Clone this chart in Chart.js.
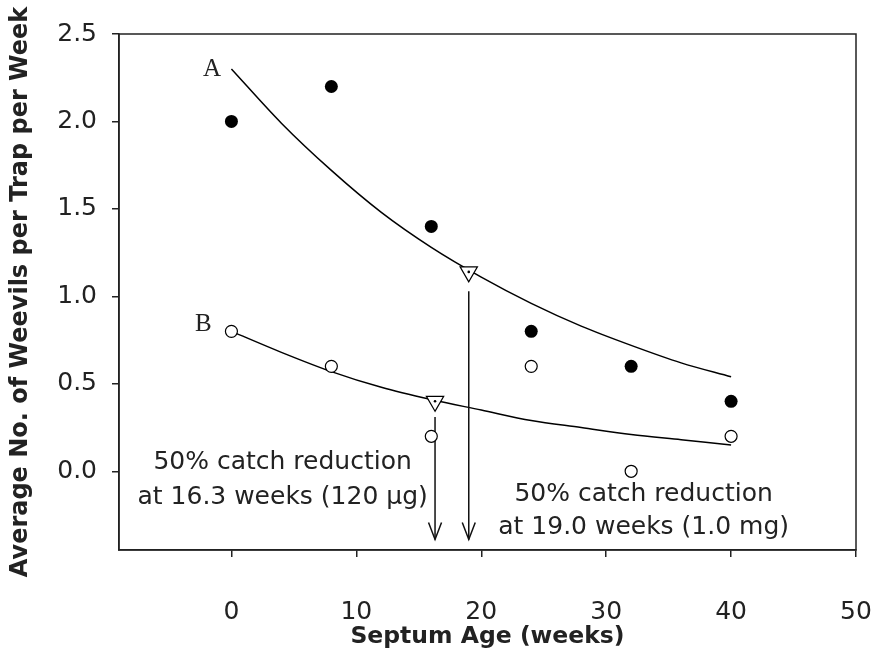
<!DOCTYPE html>
<html>
<head>
<meta charset="utf-8">
<script src="https://cdn.jsdelivr.net/npm/chart.js@4.4.1/dist/chart.umd.min.js"></script>
<style>
    html, body { margin: 0; padding: 0; background: #fff; }
</style>
</head>
<body>
<canvas id="graficoSepto" width="879" height="658"></canvas>
<script>
// pontos observados
var semanas = [0, 8, 16, 24, 32, 40];
var capturaA = [2.0, 2.2, 1.4, 0.8, 0.6, 0.4];
var capturaB = [0.8, 0.6, 0.2, 0.6, 0.0, 0.2];

// curvas ajustadas
var curvaX = [0, 4, 8, 12, 16, 20, 24, 28, 32, 36, 40];
var curvaA = [2.30, 1.99, 1.72, 1.48, 1.28, 1.11, 0.96, 0.83, 0.72, 0.62, 0.54];
var curvaB = [0.80, 0.68, 0.57, 0.48, 0.41, 0.35, 0.29, 0.25, 0.21, 0.18, 0.15];

// 50% de reducao (triangulos) e setas
var meiaVidaX = [16.3, 19.0];
var meiaVidaY = [0.40, 1.14];
var setaTopo = [0.31, 1.03];
var setaFim = [-0.39, -0.39];

var ticksX = [0, 10, 20, 30, 40, 50];
var ticksY = [0.0, 0.5, 1.0, 1.5, 2.0, 2.5];

var textos = [
    { linhas: ["50% catch reduction", "at 16.3 weeks (120 \u03bcg)"], x: 4.1, y: [0.05, -0.15] },
    { linhas: ["50% catch reduction", "at 19.0 weeks (1.0 mg)"], x: 33.0, y: [-0.135, -0.32] }
];
var letras = [
    { texto: "A", x: -1.55, y: 2.3 },
    { texto: "B", x: -2.25, y: 0.84 }
];

function pares(xs, ys) {
    var out = [];
    for (var i = 0; i < xs.length; i++) {
        out.push({ x: xs[i], y: ys[i] });
    }
    return out;
}

var fonteSans = "'DejaVu Sans', 'Liberation Sans', Arial, sans-serif";

var moldura = {
    id: "moldura",
    afterDatasetsDraw: function (chart) {
        var ctx = chart.ctx;
        var sx = chart.scales.x;
        var sy = chart.scales.y;
        ctx.save();
        ctx.strokeStyle = "#111";
        ctx.lineWidth = 1.5;
        // pontas das setas
        for (var i = 0; i < meiaVidaX.length; i++) {
            var px = sx.getPixelForValue(meiaVidaX[i]);
            var py = sy.getPixelForValue(setaFim[i]);
            ctx.beginPath();
            ctx.moveTo(px - 6.5, py - 17);
            ctx.lineTo(px, py);
            ctx.lineTo(px + 6.5, py - 17);
            ctx.stroke();
        }
        // caixa do grafico
        var a = chart.chartArea;
        ctx.strokeStyle = "#222";
        ctx.strokeRect(a.left, a.top, a.right - a.left, a.bottom - a.top);

        ctx.fillStyle = "#222";
        ctx.textAlign = "center";
        ctx.textBaseline = "middle";
        ctx.font = "25px " + fonteSans;
        textos.forEach(function (t) {
            t.linhas.forEach(function (linha, j) {
                ctx.fillText(linha, sx.getPixelForValue(t.x), sy.getPixelForValue(t.y[j]));
            });
        });
        ctx.font = "25px 'Liberation Serif', 'Times New Roman', serif";
        letras.forEach(function (l) {
            ctx.fillText(l.texto, sx.getPixelForValue(l.x), sy.getPixelForValue(l.y));
        });
        ctx.restore();
    }
};

var datasets = [
    {
        label: "A obs",
        data: pares(semanas, capturaA),
        pointRadius: 6.5,
        pointBackgroundColor: "#000",
        pointBorderColor: "#000",
        pointBorderWidth: 0,
        order: 1
    },
    {
        label: "B obs",
        data: pares(semanas, capturaB),
        pointRadius: 6,
        pointBackgroundColor: "#fff",
        pointBorderColor: "#000",
        pointBorderWidth: 1.2,
        order: 2
    },
    {
        label: "pontos",
        data: pares(meiaVidaX, meiaVidaY),
        pointRadius: 1.3,
        pointBackgroundColor: "#000",
        pointBorderWidth: 0,
        order: 0
    },
    {
        label: "meia vida",
        data: pares(meiaVidaX, meiaVidaY),
        pointStyle: "triangle",
        rotation: 180,
        pointRadius: 10,
        pointBackgroundColor: "#fff",
        pointBorderColor: "#000",
        pointBorderWidth: 1.2,
        order: 3
    },
    {
        label: "curva A",
        data: pares(curvaX, curvaA),
        showLine: true,
        cubicInterpolationMode: "monotone",
        pointRadius: 0,
        borderColor: "#000",
        borderWidth: 1.5,
        order: 6
    },
    {
        label: "curva B",
        data: pares(curvaX, curvaB),
        showLine: true,
        cubicInterpolationMode: "monotone",
        pointRadius: 0,
        borderColor: "#000",
        borderWidth: 1.5,
        order: 6
    }
];

for (var k = 0; k < meiaVidaX.length; k++) {
    datasets.push({
        label: "seta " + k,
        data: [{ x: meiaVidaX[k], y: setaTopo[k] }, { x: meiaVidaX[k], y: setaFim[k] }],
        showLine: true,
        pointRadius: 0,
        borderColor: "#111",
        borderWidth: 1.5,
        order: 5
    });
}

new Chart(document.getElementById("graficoSepto"), {
    type: "scatter",
    data: { datasets: datasets },
    options: {
        responsive: false,
        animation: false,
        layout: { padding: { top: 34, right: 23, left: 0, bottom: 0 } },
        plugins: { legend: { display: false }, tooltip: { enabled: false } },
        scales: {
            x: {
                min: -9,
                max: 50,
                afterBuildTicks: function (s) { s.ticks = ticksX.map(function (v) { return { value: v }; }); },
                afterFit: function (s) {
                    s.height = 108;
                    s.paddingLeft = 0;
                    s.paddingRight = 0;
                },
                grid: { drawOnChartArea: false, tickLength: 7, color: "#222", lineWidth: 1.5 },
                border: { display: true, color: "#222", width: 1.5 },
                ticks: { padding: 40, color: "#222", font: { family: fonteSans, size: 25 } },
                title: {
                    display: true,
                    text: "Septum Age (weeks)",
                    color: "#222",
                    padding: { top: 0, bottom: 7 },
                    font: { family: fonteSans, size: 23.5, weight: "bold" }
                }
            },
            y: {
                min: -0.45,
                max: 2.5,
                afterBuildTicks: function (s) { s.ticks = ticksY.map(function (v) { return { value: v }; }); },
                afterFit: function (s) {
                    s.width = 119;
                    s.paddingTop = 0;
                    s.paddingBottom = 0;
                },
                grid: { drawOnChartArea: false, tickLength: 7, color: "#222", lineWidth: 1.5 },
                border: { display: true, color: "#222", width: 1.5 },
                ticks: {
                    padding: 15,
                    color: "#222",
                    font: { family: fonteSans, size: 25 },
                    callback: function (v) { return Number(v).toFixed(1); }
                },
                title: {
                    display: true,
                    text: "Average No. of Weevils per Trap per Week",
                    color: "#222",
                    padding: { top: 6, bottom: 0 },
                    font: { family: fonteSans, size: 24, weight: "bold" }
                }
            }
        }
    },
    plugins: [moldura]
});
</script>
</body>
</html>
